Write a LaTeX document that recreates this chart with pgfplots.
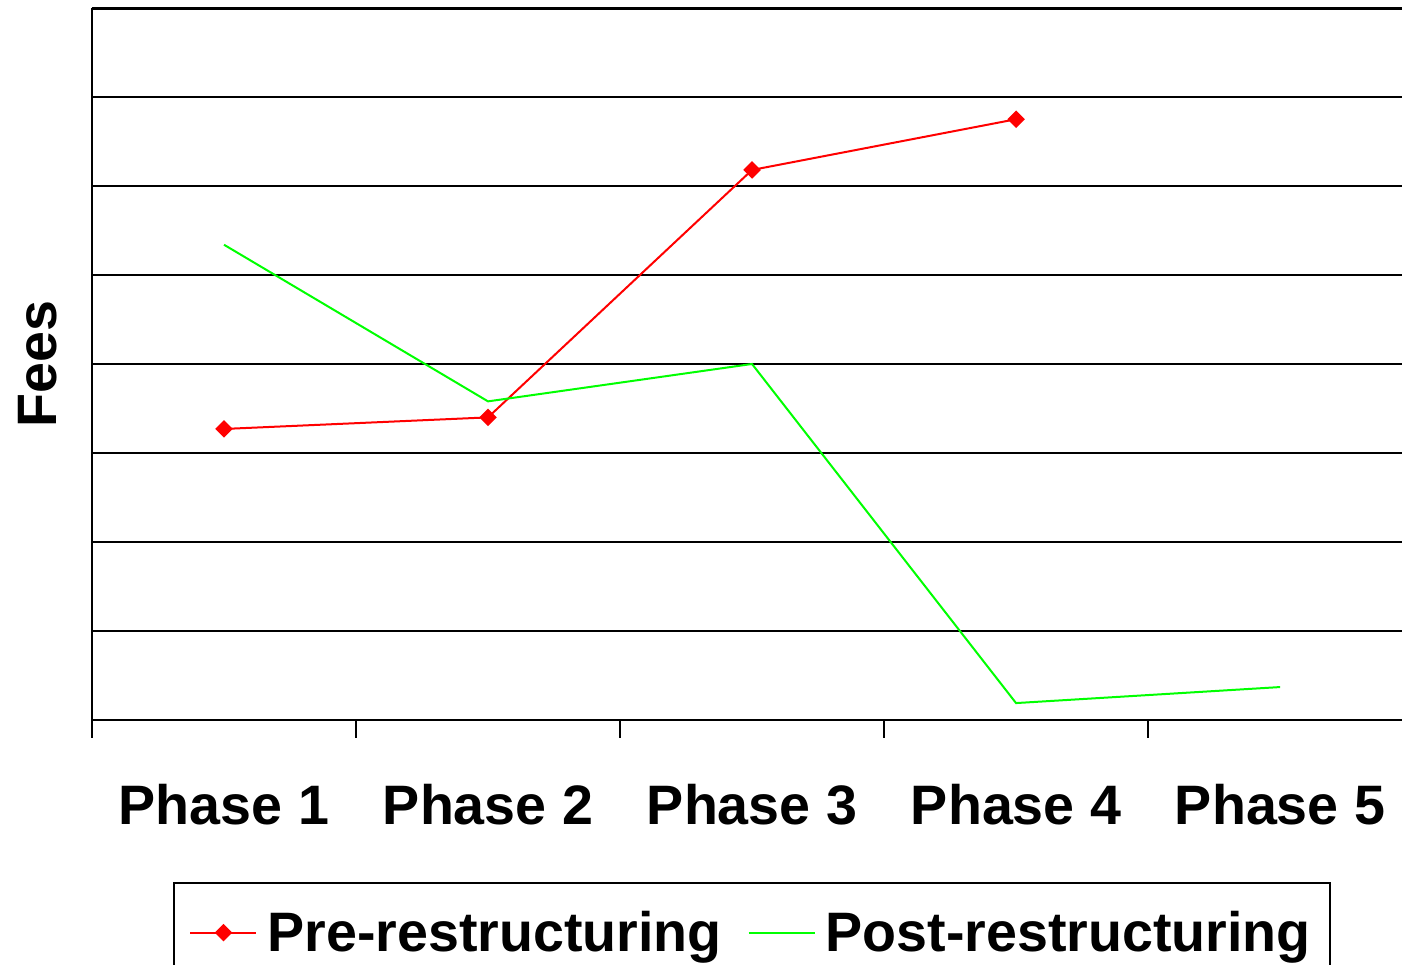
\documentclass[border=0pt]{standalone}
\usepackage{pgfplots}
\pgfplotsset{compat=1.18}
\usepackage{fontspec}
\setmainfont{Liberation Sans}
\definecolor{prered}{RGB}{255,0,0}
\definecolor{postgreen}{RGB}{0,255,0}
\begin{document}
\begin{tikzpicture}
\begin{axis}[
  name=ax,
  scale only axis,
  width=655pt, height=356pt,
  xmin=0.5, xmax=5.462,
  ymin=0, ymax=8,
  axis x line*=box,
  axis y line*=left,
  axis line style={black, line width=1.1pt},
  xtick={1,2,3,4,5},
  xticklabels={Phase 1,Phase 2,Phase 3,Phase 4,Phase 5},
  minor xtick={0.5,1.5,2.5,3.5,4.5},
  xtick pos=bottom,
  tick align=outside,
  major tick length=0pt,
  minor tick length=9pt,
  minor tick style={black, line width=1.1pt},
  ytick={0,1,...,8},
  yticklabels={},
  ymajorgrids,
  major grid style={black, line width=0.9pt},
  xticklabel style={font=\fontsize{27.8}{33}\selectfont\bfseries, yshift=-28.5pt},
  ylabel={Fees},
  every axis y label/.style={at={(axis description cs:-0.0412,0.5)}, rotate=90, anchor=center,
    font=\fontsize{27.8}{33}\selectfont\bfseries},
  legend columns=2,
  legend style={at={(0.5,0)}, anchor=north, yshift=-81pt, xshift=2.5pt,
    draw=black, line width=1pt,
    font=\fontsize{27.8}{33}\selectfont\bfseries,
    inner xsep=7.5pt, inner ysep=12pt,
    /tikz/every odd column/.append style={column sep=3pt},
    /tikz/every even column/.append style={column sep=11pt}},
  legend cell align=left,
  legend image code/.code={\draw[mark repeat=2,mark phase=2,#1] plot coordinates {(0pt,0pt)(16.5pt,0pt)(33pt,0pt)};},
]
\addplot[prered, line width=1pt, mark=square*, mark size=2.6pt, mark options={solid, fill=prered, rotate=45}]
  coordinates {(1,3.27) (2,3.40) (3,6.18) (4,6.75)};
\addlegendentry{Pre-restructuring}
\addplot[postgreen, line width=1pt, mark=none]
  coordinates {(1,5.34) (2,3.58) (3,4.00) (4,0.19) (5,0.37)};
\addlegendentry{Post-restructuring}
\draw[black, line width=1.6pt] (rel axis cs:0,1) -- (rel axis cs:1,1);
\end{axis}
\pgfresetboundingbox
\path[use as bounding box] ([xshift=-46pt,yshift=-122.5pt]ax.south west) rectangle ([yshift=4pt]ax.north east);
\end{tikzpicture}
\end{document}
